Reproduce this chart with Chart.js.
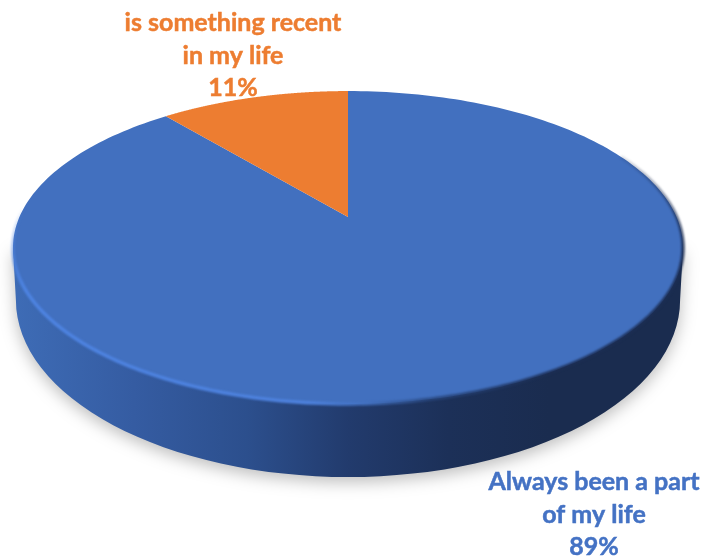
<!DOCTYPE html>
<html>
<head>
<meta charset="utf-8">
<style>
  html, body { margin: 0; background: #fff; }
  canvas { display: block; }
</style>
<script src="https://cdn.jsdelivr.net/npm/chart.js@4/dist/chart.umd.js"></script>
</head>
<body>
<canvas id="myChart" width="703" height="556"></canvas>
<script>
const categories = ['Always been a part of my life', 'is something recent in my life'];
const categoryLines = [['Always been a part', 'of my life'], ['is something recent', 'in my life']];
const shares = [89, 11];
const sliceColors = ['#4270bf', '#ed7d31'];
const labelColors = ['#4472c4', '#ed7d31'];

// tilt of the disc: vertical squash and perspective falloff
const SQUASH = 0.458;
const FALLOFF = -0.195;
// label anchors, first line baseline
const labelAnchors = [{ x: 594, y: 490 }, { x: 233, y: 31 }];
const LINE_HEIGHT = 32.5;

function rimPoint(el, angle) {
  const sx = Math.cos(angle);
  const sy = Math.sin(angle);
  const w = 1 + FALLOFF * sy;
  return {
    x: el.x + el.outerRadius * sx / w,
    y: el.y + el.outerRadius * SQUASH * sy / w
  };
}

function traceRim(ctx, el, from, to) {
  const steps = 240;
  for (let i = 0; i <= steps; i++) {
    const p = rimPoint(el, from + (to - from) * i / steps);
    ctx.lineTo(p.x, p.y);
  }
}

// pie slice seen from above, the apex sits off the ellipse centre
class TiltedArc extends Chart.ArcElement {
  draw(ctx) {
    ctx.save();
    ctx.fillStyle = this.options.backgroundColor;
    ctx.beginPath();
    ctx.moveTo(this.x, this.y);
    traceRim(ctx, this, this.startAngle, this.endAngle);
    ctx.closePath();
    ctx.fill();
    ctx.restore();
  }
}
TiltedArc.id = 'tiltedArc';
TiltedArc.defaults = Chart.ArcElement.defaults;

class TiltedPie extends Chart.PieController {}
TiltedPie.id = 'tiltedPie';
TiltedPie.defaults = { dataElementType: 'tiltedArc' };
TiltedPie.overrides = Chart.PieController.overrides;

Chart.register(TiltedArc, TiltedPie);

// side wall and soft floor shadow, under the slices
const discBody = {
  id: 'discBody',
  beforeDatasetsDraw(chart) {
    const { ctx } = chart;
    const el = chart.getDatasetMeta(0).data[0];
    const midY = el.y + 83;
    const rx = el.outerRadius + 3.5;
    const ry = 177;

    const wall = ctx.createLinearGradient(13, 0, 683, 0);
    wall.addColorStop(0, '#3e6cb6');
    wall.addColorStop(0.18, '#355ca2');
    wall.addColorStop(0.35, '#2c4f8d');
    wall.addColorStop(0.5, '#223b6d');
    wall.addColorStop(0.65, '#1c3058');
    wall.addColorStop(0.8, '#1a2c4f');
    wall.addColorStop(1, '#1a2c4f');

    ctx.save();
    ctx.shadowColor = 'rgba(0,0,0,0.26)';
    ctx.shadowBlur = 16;
    ctx.shadowOffsetY = 5;
    ctx.fillStyle = wall;
    ctx.beginPath();
    ctx.moveTo(el.x - el.outerRadius * 1.0196, el.y + 31);
    ctx.ellipse(el.x, midY, rx, ry, 0, Math.PI, 0, true);
    ctx.lineTo(el.x + el.outerRadius * 1.0196, el.y + 31);
    ctx.closePath();
    ctx.fill();
    ctx.restore();
  }
};

// bevel along the disc edge, then the text
const discRimAndLabels = {
  id: 'discRimAndLabels',
  afterDatasetsDraw(chart) {
    const { ctx } = chart;
    const el = chart.getDatasetMeta(0).data[0];

    // swept around the disc so the ends fade out
    const bevel = ctx.createConicGradient(0, el.x, el.y + 31);
    bevel.addColorStop(0, 'rgba(28,46,84,0.9)');
    bevel.addColorStop(0.09, 'rgba(28,46,84,0.9)');
    bevel.addColorStop(0.17, 'rgba(40,70,125,0.85)');
    bevel.addColorStop(0.23, 'rgba(66,112,191,0.9)');
    bevel.addColorStop(0.29, 'rgba(78,130,222,1)');
    bevel.addColorStop(0.48, 'rgba(78,132,226,1)');
    bevel.addColorStop(0.52, 'rgba(78,132,226,0)');
    bevel.addColorStop(0.94, 'rgba(28,46,84,0)');
    bevel.addColorStop(1, 'rgba(28,46,84,0.9)');

    ctx.save();
    ctx.filter = 'blur(1.2px)';
    ctx.strokeStyle = bevel;
    ctx.lineWidth = 3.5;
    ctx.beginPath();
    traceRim(ctx, el, -0.45, Math.PI + 0.3);
    ctx.stroke();
    ctx.restore();

    ctx.save();
    ctx.font = 'bold 25px Lato';
    ctx.textAlign = 'center';
    ctx.textBaseline = 'alphabetic';
    ctx.lineWidth = 0.5;
    shares.forEach((share, i) => {
      const lines = [...categoryLines[i], share + '%'];
      ctx.fillStyle = labelColors[i];
      ctx.strokeStyle = labelColors[i];
      lines.forEach((line, n) => {
        const y = labelAnchors[i].y + n * LINE_HEIGHT;
        ctx.fillText(line, labelAnchors[i].x, y);
        ctx.strokeText(line, labelAnchors[i].x, y);
      });
    });
    ctx.restore();
  }
};

const myChart = new Chart(document.getElementById('myChart'), {
  type: 'tiltedPie',
  data: {
    labels: categories,
    datasets: [{
      data: shares,
      backgroundColor: sliceColors,
      borderWidth: 0,
      clip: false
    }]
  },
  options: {
    responsive: false,
    animation: false,
    events: [],
    radius: 328.6,
    layout: { padding: { right: 7, bottom: 122 } },
    plugins: {
      legend: { display: false },
      tooltip: { enabled: false }
    }
  },
  plugins: [discBody, discRimAndLabels]
});
</script>
</body>
</html>
